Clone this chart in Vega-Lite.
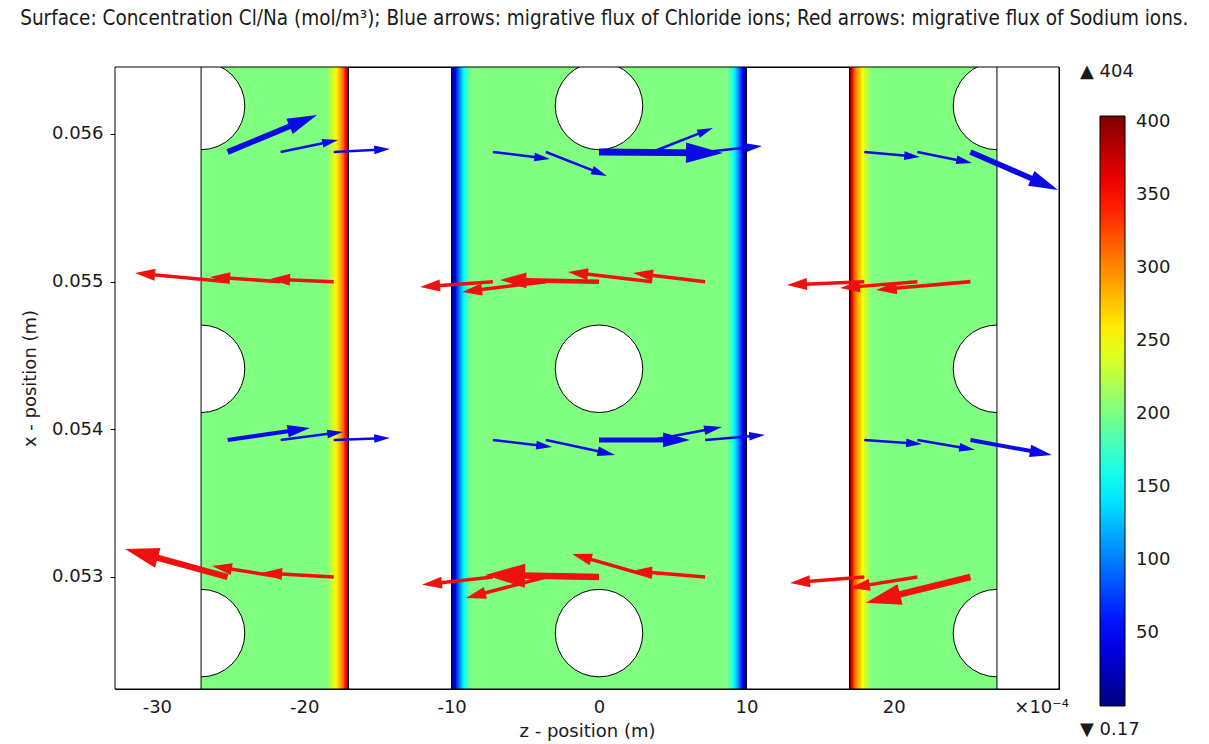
{
  "$schema": "https://vega.github.io/schema/vega-lite/v6.json",
  "width": 944,
  "height": 622,
  "autosize": {"type": "none"},
  "padding": {"left": 115, "top": 67, "right": 150, "bottom": 55},
  "background": "white",
  "title": {
    "text": "Surface: Concentration Cl/Na (mol/m³); Blue arrows: migrative flux of Chloride ions; Red arrows: migrative flux of Sodium ions.",
    "anchor": "middle",
    "frame": "bounds",
    "offset": 34,
    "dx": 8,
    "font": "DejaVu Sans Condensed",
    "fontSize": 20.5,
    "fontWeight": "normal",
    "color": "#1a1a1a"
  },
  "datasets": {
    "bands": [
      {"z": -27, "z2": -17, "c": 202.09},
      {"z": -10, "z2": 10, "c": 202.09},
      {"z": 17, "z2": 27, "c": 202.09},
      {"z": -18.5, "z2": -17, "c": 206},
      {"z": -18.4, "z2": -17, "c": 212},
      {"z": -18.3, "z2": -17, "c": 220},
      {"z": -18.2, "z2": -17, "c": 228},
      {"z": -18.1, "z2": -17, "c": 237},
      {"z": -18.0, "z2": -17, "c": 246},
      {"z": -17.9, "z2": -17, "c": 255},
      {"z": -17.8, "z2": -17, "c": 265},
      {"z": -17.7, "z2": -17, "c": 276},
      {"z": -17.6, "z2": -17, "c": 287},
      {"z": -17.5, "z2": -17, "c": 300},
      {"z": -17.4, "z2": -17, "c": 316},
      {"z": -17.3, "z2": -17, "c": 336},
      {"z": -17.2, "z2": -17, "c": 362},
      {"z": -17.1, "z2": -17, "c": 395},
      {"z": 17, "z2": 18.5, "c": 206},
      {"z": 17, "z2": 18.4, "c": 212},
      {"z": 17, "z2": 18.3, "c": 220},
      {"z": 17, "z2": 18.2, "c": 228},
      {"z": 17, "z2": 18.1, "c": 237},
      {"z": 17, "z2": 18.0, "c": 246},
      {"z": 17, "z2": 17.9, "c": 255},
      {"z": 17, "z2": 17.8, "c": 265},
      {"z": 17, "z2": 17.7, "c": 276},
      {"z": 17, "z2": 17.6, "c": 287},
      {"z": 17, "z2": 17.5, "c": 300},
      {"z": 17, "z2": 17.4, "c": 316},
      {"z": 17, "z2": 17.3, "c": 336},
      {"z": 17, "z2": 17.2, "c": 362},
      {"z": 17, "z2": 17.1, "c": 395},
      {"z": -10, "z2": -8.7, "c": 196},
      {"z": -10, "z2": -8.8, "c": 188},
      {"z": -10, "z2": -8.9, "c": 178},
      {"z": -10, "z2": -9.0, "c": 166},
      {"z": -10, "z2": -9.1, "c": 153},
      {"z": -10, "z2": -9.2, "c": 139},
      {"z": -10, "z2": -9.3, "c": 123},
      {"z": -10, "z2": -9.4, "c": 106},
      {"z": -10, "z2": -9.5, "c": 88},
      {"z": -10, "z2": -9.6, "c": 68},
      {"z": -10, "z2": -9.7, "c": 48},
      {"z": -10, "z2": -9.8, "c": 28},
      {"z": -10, "z2": -9.9, "c": 8},
      {"z": 8.7, "z2": 10, "c": 196},
      {"z": 8.8, "z2": 10, "c": 188},
      {"z": 8.9, "z2": 10, "c": 178},
      {"z": 9.0, "z2": 10, "c": 166},
      {"z": 9.1, "z2": 10, "c": 153},
      {"z": 9.2, "z2": 10, "c": 139},
      {"z": 9.3, "z2": 10, "c": 123},
      {"z": 9.4, "z2": 10, "c": 106},
      {"z": 9.5, "z2": 10, "c": 88},
      {"z": 9.6, "z2": 10, "c": 68},
      {"z": 9.7, "z2": 10, "c": 48},
      {"z": 9.8, "z2": 10, "c": 28},
      {"z": 9.9, "z2": 10, "c": 8}
    ],
    "holes": [
      {"z": -27, "x": 0.05619, "kind": "hole"},
      {"z": -27, "x": 0.05441, "kind": "hole"},
      {"z": -27, "x": 0.05262, "kind": "hole"},
      {"z": 0, "x": 0.05619, "kind": "hole"},
      {"z": 0, "x": 0.05441, "kind": "hole"},
      {"z": 0, "x": 0.05262, "kind": "hole"},
      {"z": 27, "x": 0.05619, "kind": "hole"},
      {"z": 27, "x": 0.05441, "kind": "hole"},
      {"z": 27, "x": 0.05262, "kind": "hole"}
    ],
    "outside": [
      {"z": -40, "z2": -27},
      {"z": 27, "z2": 40}
    ],
    "edges": [
      {"z": -27, "kind": "edge"}, {"z": -17, "kind": "edge"}, {"z": -10, "kind": "edge"},
      {"z": 10, "kind": "edge"}, {"z": 17, "kind": "edge"}, {"z": 27, "kind": "edge"}
    ],
    "flux": [
      {"ion": "Cl", "z": -25.2, "x": 0.055878, "z2": -19.13, "x2": 0.056129},
      {"ion": "Cl", "z": -21.6, "x": 0.055878, "z2": -17.71, "x2": 0.055959},
      {"ion": "Cl", "z": -18.0, "x": 0.055878, "z2": -14.18, "x2": 0.055898},
      {"ion": "Cl", "z": -7.2, "x": 0.055878, "z2": -3.32, "x2": 0.055831},
      {"ion": "Cl", "z": -3.6, "x": 0.055878, "z2": 0.54, "x2": 0.055716},
      {"ion": "Cl", "z": 0.0, "x": 0.055878, "z2": 8.41, "x2": 0.055871},
      {"ion": "Cl", "z": 3.6, "x": 0.055878, "z2": 7.73, "x2": 0.056041},
      {"ion": "Cl", "z": 7.2, "x": 0.055878, "z2": 11.06, "x2": 0.055919},
      {"ion": "Cl", "z": 18.0, "x": 0.055878, "z2": 21.78, "x2": 0.055844},
      {"ion": "Cl", "z": 21.6, "x": 0.055878, "z2": 25.31, "x2": 0.055804},
      {"ion": "Cl", "z": 25.2, "x": 0.055878, "z2": 31.14, "x2": 0.055621},
      {"ion": "Cl", "z": -25.2, "x": 0.053928, "z2": -19.61, "x2": 0.054009},
      {"ion": "Cl", "z": -21.6, "x": 0.053928, "z2": -17.37, "x2": 0.053982},
      {"ion": "Cl", "z": -18.0, "x": 0.053928, "z2": -14.18, "x2": 0.053942},
      {"ion": "Cl", "z": -7.2, "x": 0.053928, "z2": -3.19, "x2": 0.053881},
      {"ion": "Cl", "z": -3.6, "x": 0.053928, "z2": 1.09, "x2": 0.053827},
      {"ion": "Cl", "z": 0.0, "x": 0.053928, "z2": 6.17, "x2": 0.053928},
      {"ion": "Cl", "z": 3.6, "x": 0.053928, "z2": 8.34, "x2": 0.054016},
      {"ion": "Cl", "z": 7.2, "x": 0.053928, "z2": 11.26, "x2": 0.053962},
      {"ion": "Cl", "z": 18.0, "x": 0.053928, "z2": 21.91, "x2": 0.053901},
      {"ion": "Cl", "z": 21.6, "x": 0.053928, "z2": 25.51, "x2": 0.053861},
      {"ion": "Cl", "z": 25.2, "x": 0.053928, "z2": 30.73, "x2": 0.053827},
      {"ion": "Na", "z": -18.0, "x": 0.055, "z2": -22.32, "x2": 0.055018},
      {"ion": "Na", "z": -21.6, "x": 0.055, "z2": -26.39, "x2": 0.055032},
      {"ion": "Na", "z": -25.2, "x": 0.055, "z2": -31.48, "x2": 0.055059},
      {"ion": "Na", "z": -7.2, "x": 0.055, "z2": -12.14, "x2": 0.054964},
      {"ion": "Na", "z": -3.6, "x": 0.055, "z2": -9.29, "x2": 0.05493},
      {"ion": "Na", "z": 0.0, "x": 0.055, "z2": -6.72, "x2": 0.055012},
      {"ion": "Na", "z": 3.6, "x": 0.055, "z2": -2.10, "x2": 0.055066},
      {"ion": "Na", "z": 7.2, "x": 0.055, "z2": 2.31, "x2": 0.055059},
      {"ion": "Na", "z": 18.0, "x": 0.055, "z2": 12.75, "x2": 0.054978},
      {"ion": "Na", "z": 21.6, "x": 0.055, "z2": 16.35, "x2": 0.054957},
      {"ion": "Na", "z": 25.2, "x": 0.055, "z2": 18.79, "x2": 0.054944},
      {"ion": "Na", "z": -18.0, "x": 0.053, "z2": -22.86, "x2": 0.053028},
      {"ion": "Na", "z": -21.6, "x": 0.053, "z2": -26.26, "x2": 0.053075},
      {"ion": "Na", "z": -25.2, "x": 0.053, "z2": -32.16, "x2": 0.05319},
      {"ion": "Na", "z": -7.2, "x": 0.053, "z2": -12.01, "x2": 0.052947},
      {"ion": "Na", "z": -3.6, "x": 0.053, "z2": -9.02, "x2": 0.052858},
      {"ion": "Na", "z": 0.0, "x": 0.053, "z2": -7.73, "x2": 0.053014},
      {"ion": "Na", "z": 3.6, "x": 0.053, "z2": -1.83, "x2": 0.053156},
      {"ion": "Na", "z": 7.2, "x": 0.053, "z2": 2.24, "x2": 0.053041},
      {"ion": "Na", "z": 18.0, "x": 0.053, "z2": 12.96, "x2": 0.05296},
      {"ion": "Na", "z": 21.6, "x": 0.053, "z2": 17.03, "x2": 0.052926},
      {"ion": "Na", "z": 25.2, "x": 0.053, "z2": 18.11, "x2": 0.052825}
    ]
  },
  "layer": [
    {
      "data": {"name": "bands"},
      "mark": {"type": "rect"},
      "encoding": {
        "x": {
          "field": "z",
          "type": "quantitative",
          "scale": {"domain": [-32.84, 31.21], "nice": false, "zero": false},
          "axis": {
            "title": "z - position (m)",
            "values": [-30, -20, -10, 0, 10, 20, 30],
            "labelExpr": "datum.value == 30 ? '×10⁻⁴' : replace(datum.label, '−', '-')",
            "tickSize": -6,
            "labelPadding": 15,
            "titlePadding": 6
          }
        },
        "x2": {"field": "z2"},
        "color": {
          "field": "c",
          "type": "quantitative",
          "scale": {
            "domain": [0.17, 50.65, 101.13, 151.61, 202.09, 252.56, 303.04, 353.52, 404],
            "range": ["#000080", "#0000ff", "#0080ff", "#00ffff", "#80ff80", "#ffff00", "#ff8000", "#ff0000", "#800000"],
            "interpolate": "rgb"
          },
          "legend": {
            "type": "gradient",
            "title": null,
            "orient": "none",
            "legendX": 985,
            "legendY": 49,
            "direction": "vertical",
            "gradientLength": 590,
            "gradientThickness": 25,
            "gradientStrokeColor": "#000",
            "gradientStrokeWidth": 1,
            "values": [50, 100, 150, 200, 250, 300, 350, 400],
            "labelFontSize": 18,
            "labelOffset": 11,
            "labelColor": "#1a1a1a",
            "padding": 0
          }
        }
      }
    },
    {
      "data": {"name": "holes"},
      "mark": {"type": "point", "filled": true, "fill": "white", "stroke": "black", "strokeWidth": 1, "size": 7656, "opacity": 1, "clip": true},
      "encoding": {
        "x": {"field": "z", "type": "quantitative"},
        "y": {
          "field": "x",
          "type": "quantitative",
          "scale": {"domain": [0.0522415, 0.0564537], "nice": false, "zero": false},
          "axis": {
            "title": "x - position (m)",
            "values": [0.053, 0.054, 0.055, 0.056],
            "format": ".3f",
            "tickSize": 5,
            "labelPadding": 7,
            "titlePadding": 12
          }
        },
        "shape": {
          "field": "kind",
          "type": "nominal",
          "scale": {"range": ["circle"]},
          "legend": {
            "title": "▲ 404",
            "orient": "none",
            "legendX": 965,
            "legendY": -4,
            "titleFontSize": 18,
            "titleFontWeight": "normal",
            "titleColor": "#1a1a1a",
            "symbolOpacity": 0,
            "symbolSize": 0,
            "labelExpr": "''",
            "labelOpacity": 0,
            "padding": 0
          }
        }
      }
    },
    {
      "data": {"name": "outside"},
      "mark": {"type": "rect", "fill": "white", "clip": true},
      "encoding": {
        "x": {"field": "z", "type": "quantitative"},
        "x2": {"field": "z2"}
      }
    },
    {
      "data": {"name": "edges"},
      "mark": {"type": "rule", "color": "black", "strokeWidth": 1},
      "encoding": {
        "x": {"field": "z", "type": "quantitative"},
        "strokeDash": {
          "field": "kind",
          "type": "nominal",
          "scale": {"range": [[1, 0]]},
          "legend": {
            "title": "▼ 0.17",
            "orient": "none",
            "legendX": 965,
            "legendY": 654,
            "titleFontSize": 18,
            "titleFontWeight": "normal",
            "titleColor": "#1a1a1a",
            "symbolOpacity": 0,
            "symbolSize": 0,
            "labelExpr": "''",
            "labelOpacity": 0,
            "padding": 0
          }
        }
      }
    },
    {
      "data": {"name": "flux"},
      "transform": [
        {"filter": "datum.ion === 'Cl'"},
        {"calculate": "sqrt(pow(datum.z2 - datum.z, 2) + pow((datum.x2 - datum.x) * 10018, 2))", "as": "len"},
        {"calculate": "atan2(-(datum.x2 - datum.x) * 10018, datum.z2 - datum.z) * 180 / PI", "as": "ang"},
        {"calculate": "datum.z + 0.86 * (datum.z2 - datum.z)", "as": "zs"},
        {"calculate": "datum.x + 0.86 * (datum.x2 - datum.x)", "as": "xs"}
      ],
      "layer": [
        {
          "mark": {"type": "rule", "color": "#0a0ae6", "strokeCap": "butt"},
          "encoding": {
            "x": {"field": "z", "type": "quantitative"},
            "y": {"field": "x", "type": "quantitative"},
            "x2": {"field": "zs"},
            "y2": {"field": "xs"},
            "strokeWidth": {
              "field": "len",
              "type": "quantitative",
              "scale": {"domain": [4.8, 6.6, 8.4], "range": [2.5, 5.8, 6.8], "clamp": true},
              "legend": null
            }
          }
        },
        {
          "mark": {"type": "point", "shape": "M0,0L-2,-0.55L-2,0.55Z", "filled": true, "color": "#0a0ae6", "opacity": 1, "strokeWidth": 0},
          "encoding": {
            "x": {"field": "z2", "type": "quantitative"},
            "y": {"field": "x2", "type": "quantitative"},
            "angle": {"field": "ang", "type": "quantitative", "scale": null},
            "size": {
              "field": "len",
              "type": "quantitative",
              "scale": {"domain": [4.5, 5.6, 6.6, 8.4], "range": [250, 484, 900, 1369], "clamp": true},
              "legend": null
            }
          }
        }
      ]
    },
    {
      "data": {"name": "flux"},
      "transform": [
        {"filter": "datum.ion === 'Na'"},
        {"calculate": "sqrt(pow(datum.z2 - datum.z, 2) + pow((datum.x2 - datum.x) * 10018, 2))", "as": "len"},
        {"calculate": "atan2(-(datum.x2 - datum.x) * 10018, datum.z2 - datum.z) * 180 / PI", "as": "ang"},
        {"calculate": "datum.z + 0.86 * (datum.z2 - datum.z)", "as": "zs"},
        {"calculate": "datum.x + 0.86 * (datum.x2 - datum.x)", "as": "xs"}
      ],
      "layer": [
        {
          "mark": {"type": "rule", "color": "#f01010", "strokeCap": "butt"},
          "encoding": {
            "x": {"field": "z", "type": "quantitative"},
            "y": {"field": "x", "type": "quantitative"},
            "x2": {"field": "zs"},
            "y2": {"field": "xs"},
            "strokeWidth": {
              "field": "len",
              "type": "quantitative",
              "scale": {"domain": [6.4, 7.3], "range": [3.5, 6.5], "clamp": true},
              "legend": null
            }
          }
        },
        {
          "mark": {"type": "point", "shape": "M0,0L-2,-0.6L-2,0.6Z", "filled": true, "color": "#f01010", "opacity": 1, "strokeWidth": 0},
          "encoding": {
            "x": {"field": "z2", "type": "quantitative"},
            "y": {"field": "x2", "type": "quantitative"},
            "angle": {"field": "ang", "type": "quantitative", "scale": null},
            "size": {
              "field": "len",
              "type": "quantitative",
              "scale": {"domain": [6.4, 7.7], "range": [400, 1600], "clamp": true},
              "legend": null
            }
          }
        }
      ]
    },
    {
      "data": {"values": [{"frame": 1}]},
      "mark": {"type": "rect", "filled": false, "stroke": "black", "strokeWidth": 1},
      "encoding": {}
    }
  ],
  "resolve": {"scale": {"strokeWidth": "independent", "size": "independent"}},
  "config": {
    "font": "DejaVu Sans",
    "view": {"stroke": "#000", "strokeWidth": 1},
    "axis": {
      "labelFont": "DejaVu Sans",
      "titleFont": "DejaVu Sans",
      "labelFontSize": 18,
      "titleFontSize": 18,
      "titleFontWeight": "normal",
      "labelColor": "#1a1a1a",
      "titleColor": "#1a1a1a",
      "tickColor": "#000",
      "domain": false,
      "grid": false
    },
    "legend": {
      "labelFont": "DejaVu Sans",
      "titleFont": "DejaVu Sans"
    }
  }
}
